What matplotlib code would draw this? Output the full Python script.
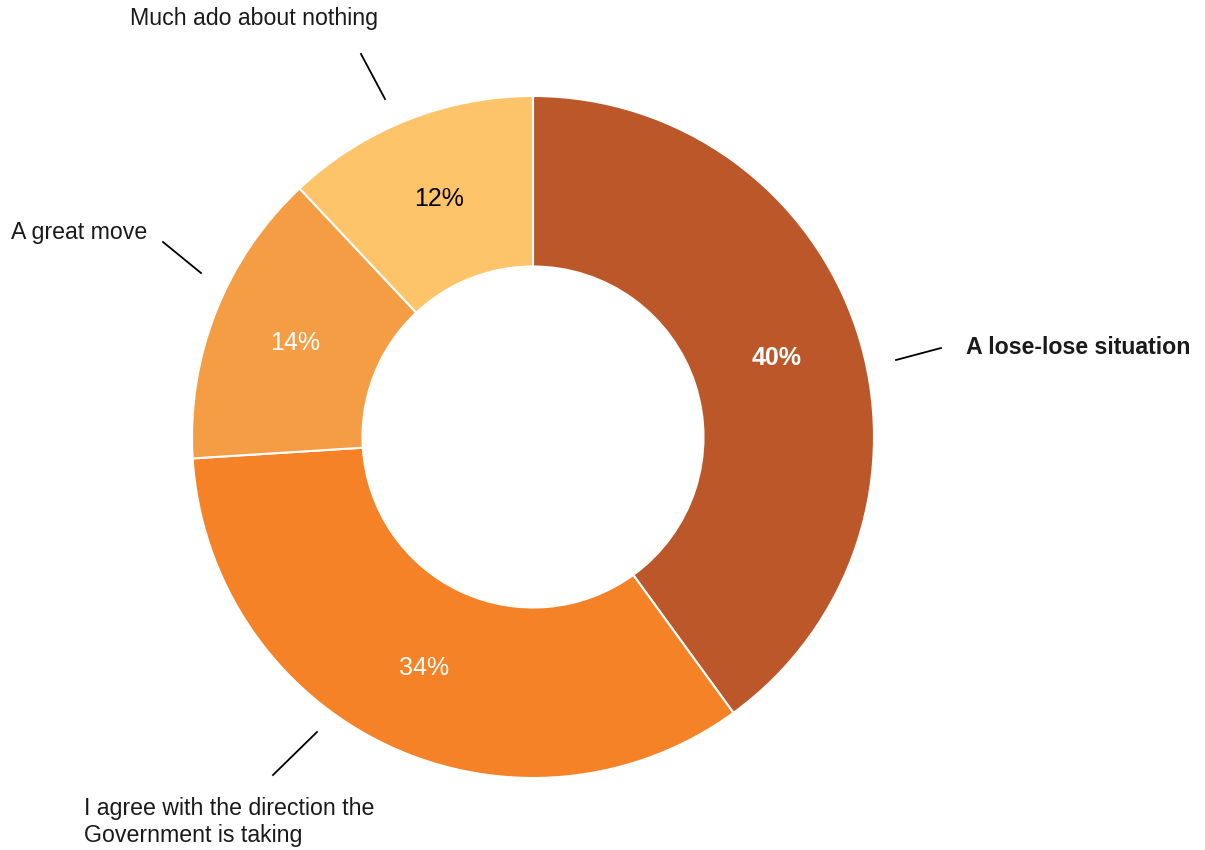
import matplotlib.pyplot as plt

labels = ["A lose-lose situation", "I agree with the direction the\nGovernment is taking",
          "A great move", "Much ado about nothing"]
values = [40, 34, 14, 12]
colors = ["#BC5729", "#F58226", "#F59D44", "#FEC46A"]
pct_colors = ["white", "white", "white", "black"]
pct_weights = ["bold", "normal", "normal", "normal"]

plt.rcParams['font.family'] = ['Liberation Sans', 'DejaVu Sans']

W, H = 1205, 850
cx, cy, R = 533, 437, 341


def px(x, y):
    # picture pixels -> data coords (pie radius = 1)
    return ((x - cx) / R, (cy - y) / R)


fig = plt.figure(figsize=(W / 100, H / 100), dpi=100)
ax = fig.add_axes([0, 0, 1, 1])
wedges, texts, autotexts = ax.pie(values, colors=colors, startangle=90, counterclock=False,
                                  radius=1, autopct='%d%%', pctdistance=0.75,
                                  wedgeprops=dict(width=0.5, edgecolor='white', linewidth=1.5),
                                  textprops=dict(fontsize=18))
for t, c, w in zip(autotexts, pct_colors, pct_weights):
    t.set_color(c)
    t.set_fontweight(w)

# leader lines
leaders = [((896, 360), (941, 348)), ((317, 732), (273, 775)),
           ((201, 273), (163, 242)), ((385, 99), (361, 54))]
for a, b in leaders:
    (x0, y0), (x1, y1) = px(*a), px(*b)
    ax.plot([x0, x1], [y0, y1], color='black', lw=1.3)

# category labels
label_pos = [(966, 348, 'bold'), (84, 822, 'normal'),
             (11, 232, 'normal'), (130, 19, 'normal')]
for lab, (x, y, wt) in zip(labels, label_pos):
    tx, ty = px(x, y)
    ax.text(tx, ty, lab, ha='left', va='center', fontsize=16.7, fontweight=wt,
            color='#1a1a1a', linespacing=1.25)

ax.set_xlim(-cx / R, (W - cx) / R)
ax.set_ylim(-(H - cy) / R, cy / R)
ax.set_aspect('equal')
ax.axis('off')
fig.savefig("out.png", dpi=100, facecolor='white')
